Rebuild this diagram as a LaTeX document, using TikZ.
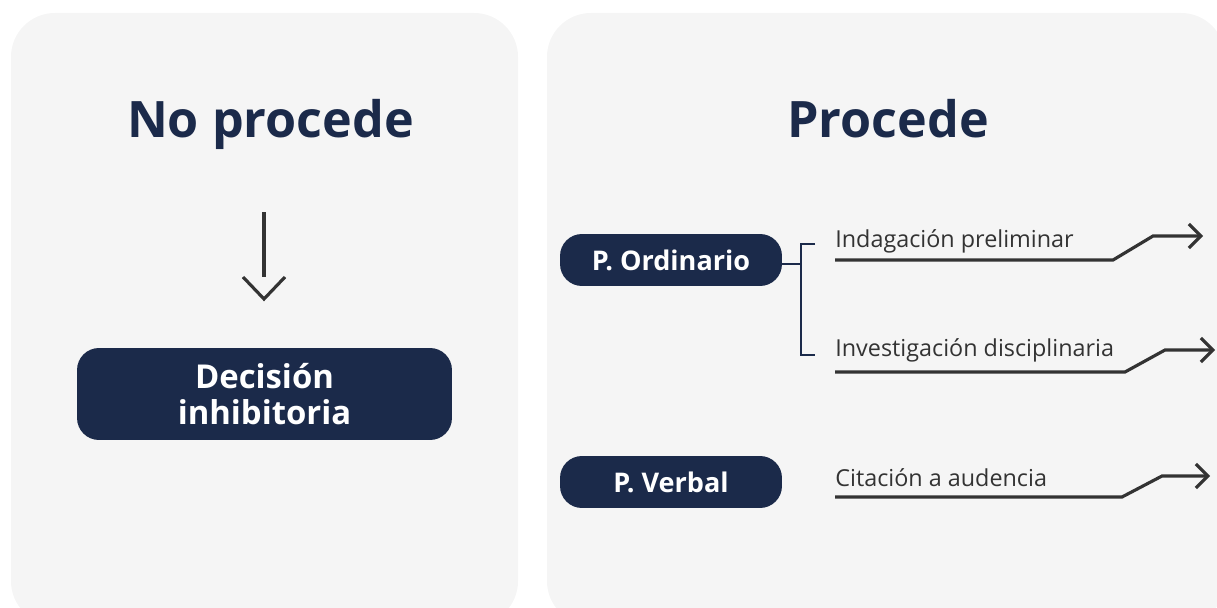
\documentclass[tikz,border=0pt]{standalone}
\usepackage{fontspec}
\setmainfont{Open Sans}
\usetikzlibrary{arrows.meta,positioning}
\definecolor{navy}{HTML}{1B2A4A}
\definecolor{panelgray}{HTML}{F5F5F5}
\definecolor{ink}{HTML}{333333}

\begin{document}
\begin{tikzpicture}[x=0.02cm,y=-0.02cm,
  panelbox/.style={fill=panelgray,rounded corners=25pt},
  title/.style={text=navy,anchor=base,inner sep=0pt,font=\fontsize{28.6}{34}\selectfont\bfseries},
  navybox/.style={fill=navy,text=white,rounded corners=12.5pt,inner sep=0pt,align=center},
  pbox/.style={navybox,minimum width=4.44cm,minimum height=1.04cm,font=\fontsize{15.4}{18}\selectfont\bfseries},
  lab/.style={text=ink,anchor=base west,inner sep=0pt,font=\fontsize{13.3}{16}\selectfont},
  inkline/.style={draw=ink,line width=1.8pt},
  brk/.style={draw=navy,line width=1.1pt}]
\useasboundingbox (0,0) rectangle (1217,608);
\clip (0,0) rectangle (1217,608);
% panels
\fill[panelbox] (11,13) rectangle (518,625);
\fill[panelbox] (547,13) rectangle (1225,625);
\node[title] (nop) at (270.5,137) {No procede};
\node[title] (proc) at (888,137) {Procede};

% no procede
\coordinate (a1) at (264,212);
\coordinate (a2) at (264,277);
\coordinate (a3) at (264,299);
\draw[inkline] (a1) -- (a2);
\draw[inkline] ([shift={(-21,-22)}]a3) -- (a3) -- ([shift={(21,-22)}]a3);
\node[navybox,minimum width=7.5cm,minimum height=1.84cm,font=\fontsize{18.7}{20.4}\selectfont\bfseries] (dec) at (264.5,394) {Decisión\\inhibitoria};

% procede
\node[pbox] (ord) at (671,260) {P. Ordinario};
\node[pbox] (verb) at (671,482) {P. Verbal};
\coordinate (bt) at (815,244);
\coordinate (bb) at (815,355);
\coordinate (bm) at (801,264);
\draw[brk] (ord.east |- bm) -- (bm);
\draw[brk] (bt) -- ++(-14,0) |- (bb);
\foreach \i/\txt/\yb/\yu/\xd/\yt/\xt in {1/Indagación preliminar/247/260/1113/236/1203,
    2/Investigación disciplinaria/356/372/1125/350/1215,
    3/Citación a audencia/486/497/1122/476/1210} {
  \node[lab] (lab\i) at (835,\yb) {\txt};
  \coordinate (end\i) at (\xt,\yt);
  \draw[inkline,-{Straight Barb[length=6.8pt,width=13.6pt]}] ([shift={(0,\yu-\yb)}]lab\i.base west) -- (\xd,\yu) -- ++(40,\yt-\yu) -- (end\i);
}
\end{tikzpicture}
\end{document}
